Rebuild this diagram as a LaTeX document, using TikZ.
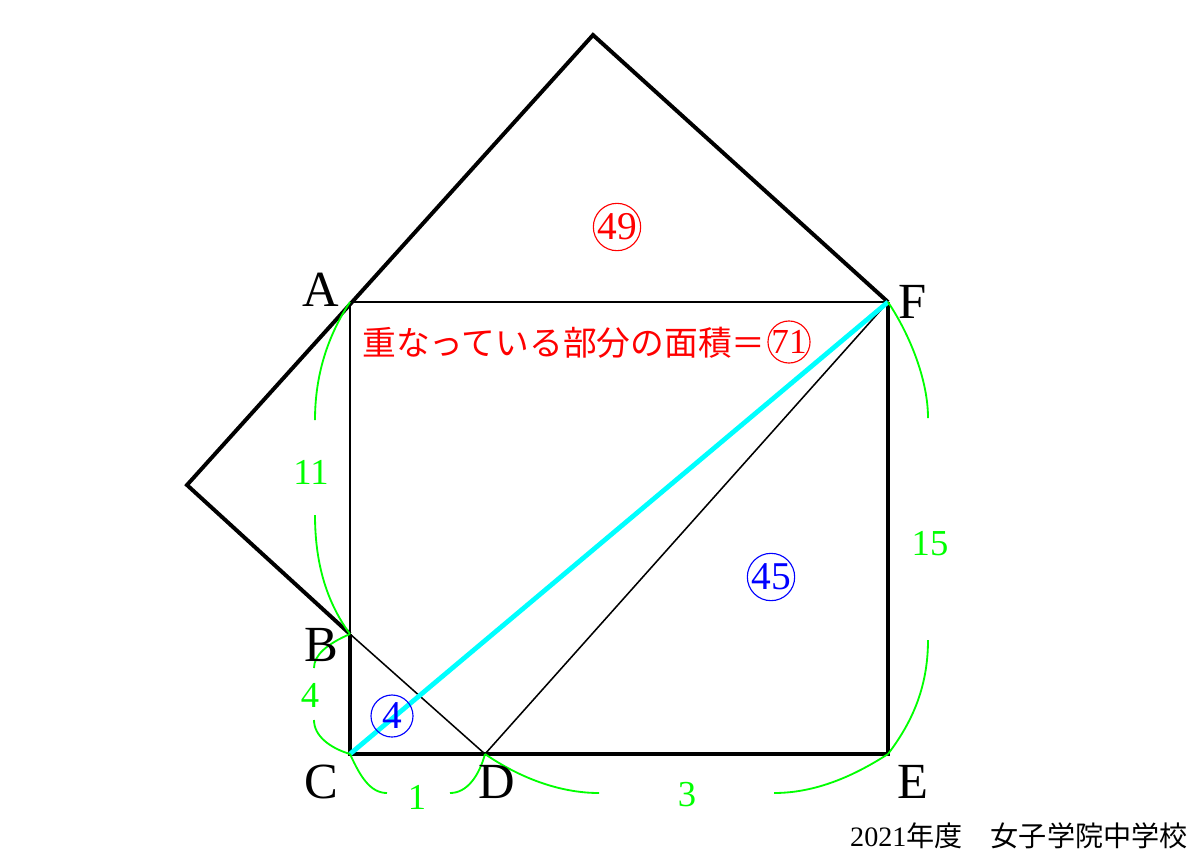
\documentclass[tikz,border=0pt]{standalone}
\usepackage{fontspec}
\setmainfont{Liberation Serif}
\newfontfamily\jp{Noto Sans CJK JP}
\definecolor{purecyan}{RGB}{0,255,255}
\definecolor{puregreen}{RGB}{0,255,0}
\begin{document}
\begin{tikzpicture}[x=0.025cm,y=-0.025cm,
  thickline/.style={line width=2.8pt,line join=miter},
  thinline/.style={line width=1.1pt},
  cyanline/.style={line width=3.4pt,color=purecyan},
  greenarc/.style={line width=1.3pt,color=puregreen},
  ptlabel/.style={font=\fontsize{36}{36}\selectfont,inner sep=0pt},
  glabel/.style={font=\fontsize{26}{26}\selectfont,text=puregreen,inner sep=0pt},
  circnum/.style={circle,draw=#1,text=#1,line width=0.8pt,minimum size=1.05cm,inner sep=0pt,font=\fontsize{28}{28}\selectfont}]
\useasboundingbox (0,0) rectangle (1200,857);
% points
\coordinate (T) at (593,35);
\coordinate (L) at (187,485);
\coordinate (A) at (350,302);
\coordinate (F) at (888,302);
\coordinate (B) at (350,634);
\coordinate (C) at (350,754);
\coordinate (D) at (485,754);
\coordinate (E) at (888,754);
% thin lines
\draw[thinline] (A) -- (F);
\draw[thinline] (A) -- (B);
\draw[thinline] (B) -- (D);
\draw[thinline] (D) -- (F);
% thick lines
\draw[thickline] (B) -- (L) -- (T) -- (F);
\draw[thickline] (B) -- (C) -- (E) -- (F);
% cyan
\draw[cyanline] (C) -- (F);
% green braces
\draw[greenarc] (A) .. controls (325,340) and (315,380) .. (315,420);
\draw[greenarc] (315,515) .. controls (315,560) and (325,600) .. (B);
\draw[greenarc] (B) .. controls (327,644) and (314,655) .. (314,668);
\draw[greenarc] (314,720) .. controls (314,736) and (330,748) .. (C);
\draw[greenarc] (C) .. controls (360,776) and (370,793) .. (387,793);
\draw[greenarc] (450,793) .. controls (467,793) and (479,776) .. (D);
\draw[greenarc] (D) .. controls (520,778) and (560,793) .. (599,793);
\draw[greenarc] (774,793) .. controls (820,793) and (860,772) .. (E);
\draw[greenarc] (F) .. controls (910,335) and (928,380) .. (928,418);
\draw[greenarc] (928,640) .. controls (928,690) and (910,725) .. (E);
% green labels
\node[glabel] (l11) at (311,472) {11};
\node[glabel] (l4) at (310,695) {4};
\node[glabel] (l1) at (417,797) {1};
\node[glabel] (l3) at (687,795) {3};
\node[glabel] (l15) at (930,544) {15};
% point labels
\node[ptlabel] (nA) at (321,290) {A};
\node[ptlabel] (nF) at (913,302) {F};
\node[ptlabel] (nB) at (321,645) {B};
\node[ptlabel] (nC) at (321,782) {C};
\node[ptlabel] (nD) at (497,782) {D};
\node[ptlabel] (nE) at (913,782) {E};
% circled numbers
\node[circnum=red] (c49) at (617,227) {49};
\node[circnum=blue] (c45) at (771,577) {45};
\node[circnum=blue] (c4) at (392,716) {4};
% red text
\node[anchor=west,inner sep=0pt,text=red,font=\jp\fontsize{24}{24}\selectfont] (txt) at (362,343) {重なっている部分の面積＝};
\node[circle,draw=red,text=red,line width=0.8pt,minimum size=0.95cm,inner sep=0pt,font=\fontsize{25}{25}\selectfont] (c71) at (789,342) {71};
% footer
\node[anchor=east,inner sep=0pt,font=\fontsize{20}{20}\selectfont] (foot) at (1188,836) {2021{\jp 年度　女子学院中学校}};
\end{tikzpicture}
\end{document}
